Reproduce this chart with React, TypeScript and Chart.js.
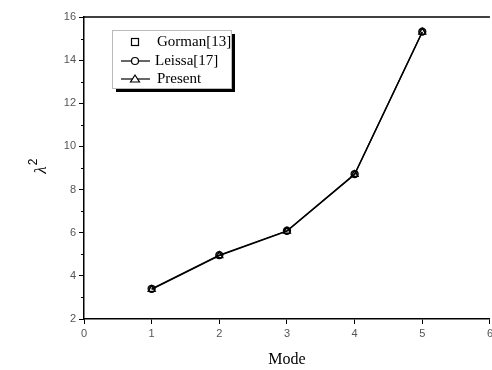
import React, { useEffect, useRef } from "react";
import { Chart, registerables } from "chart.js";
Chart.register(...registerables);

const modes = [1, 2, 3, 4, 5];
const gorman = [3.38, 4.95, 6.08, 8.71, 15.31];
const leissa = [3.40, 4.96, 6.09, 8.72, 15.32];
const present = [3.37, 4.94, 6.07, 8.70, 15.30];
const legendLabels = ["Gorman[13]", "Leissa[17]", "Present"];
const xTitle = "Mode";

const framePlugin = {
  id: "frame",
  afterDraw(chart: any) {
    const { ctx, chartArea, scales } = chart;
    const { left, right, top, bottom } = chartArea;
    const y = scales.y;
    const x = scales.x;
    ctx.save();
    ctx.strokeStyle = "#000";
    ctx.lineWidth = 1.5;
    ctx.beginPath();
    ctx.moveTo(left, top);
    ctx.lineTo(right, top);
    ctx.stroke();
    ctx.lineWidth = 1;
    ctx.beginPath();
    for (let v = 3; v < 16; v += 2) {
      const py = Math.round(y.getPixelForValue(v)) + 0.5;
      ctx.moveTo(left - 3, py);
      ctx.lineTo(left, py);
    }
    ctx.stroke();

    // axis titles
    ctx.fillStyle = "#000";
    ctx.textAlign = "center";
    ctx.textBaseline = "middle";
    ctx.font = "16px 'Liberation Serif'";
    ctx.fillText(xTitle, x.getPixelForValue(3), 360);

    ctx.save();
    ctx.translate(40, (top + bottom) / 2);
    ctx.rotate(-Math.PI / 2);
    ctx.font = "italic 17px 'Liberation Serif'";
    ctx.fillText("λ", -2, 2);
    ctx.font = "12px 'Liberation Sans'";
    ctx.fillText("2", 6, -6);
    ctx.restore();

    // legend
    const bx = 112, by = 30, bw = 119, bh = 58;
    ctx.fillStyle = "#000";
    ctx.fillRect(bx + 4, by + 4, bw, bh);
    ctx.fillStyle = "#fff";
    ctx.fillRect(bx, by, bw, bh);
    ctx.strokeStyle = "#bbb";
    ctx.lineWidth = 1;
    ctx.strokeRect(bx + 0.5, by + 0.5, bw, bh);

    const rows = [42, 61, 79];
    const sx = 135;
    ctx.strokeStyle = "#000";
    ctx.lineWidth = 1.2;
    // row 1 square
    ctx.strokeRect(sx - 3.5, rows[0] - 3.5, 7, 7);
    // row 2 line + circle
    ctx.beginPath();
    ctx.moveTo(121, rows[1]);
    ctx.lineTo(150, rows[1]);
    ctx.stroke();
    ctx.beginPath();
    ctx.arc(sx, rows[1], 3.5, 0, Math.PI * 2);
    ctx.fillStyle = "#fff";
    ctx.fill();
    ctx.stroke();
    // row 3 line + triangle
    ctx.beginPath();
    ctx.moveTo(121, rows[2]);
    ctx.lineTo(150, rows[2]);
    ctx.stroke();
    ctx.beginPath();
    ctx.moveTo(sx, rows[2] - 4);
    ctx.lineTo(sx + 4.5, rows[2] + 3);
    ctx.lineTo(sx - 4.5, rows[2] + 3);
    ctx.closePath();
    ctx.fill();
    ctx.stroke();

    ctx.fillStyle = "#000";
    ctx.textAlign = "left";
    ctx.textBaseline = "middle";
    ctx.font = "15px 'Liberation Serif'";
    ctx.fillText(legendLabels[0], 157, rows[0]);
    ctx.fillText(legendLabels[1], 155, rows[1]);
    ctx.fillText(legendLabels[2], 157, rows[2]);
    ctx.restore();
  },
};

export default function App() {
  const ref = useRef<HTMLCanvasElement>(null);
  useEffect(() => {
    if (!ref.current) return;
    const pts = (arr: number[]) => modes.map((m, i) => ({ x: m, y: arr[i] }));
    const chart = new Chart(ref.current, {
      type: "scatter",
      data: {
        datasets: [
          {
            label: legendLabels[0],
            data: pts(gorman),
            showLine: false,
            pointStyle: "rect",
            pointRadius: 3.5,
            borderColor: "#000",
            backgroundColor: "rgba(255,255,255,0)",
            borderWidth: 1,
          },
          {
            label: legendLabels[1],
            data: pts(leissa),
            showLine: true,
            pointStyle: "circle",
            pointRadius: 3.5,
            borderColor: "#000",
            backgroundColor: "rgba(255,255,255,0)",
            borderWidth: 1.3,
          },
          {
            label: legendLabels[2],
            data: pts(present),
            showLine: true,
            pointStyle: "triangle",
            pointRadius: 4,
            borderColor: "#000",
            backgroundColor: "rgba(255,255,255,0)",
            borderWidth: 1.3,
          },
        ],
      },
      options: {
        animation: false,
        responsive: false,
        events: [],
        layout: { padding: { left: 0, top: 17, right: 0, bottom: 0 } },
        plugins: { legend: { display: false }, tooltip: { enabled: false } },
        scales: {
          x: {
            type: "linear",
            min: 0,
            max: 6,
            afterFit: (s: any) => { s.height = 51; },
            ticks: {
              stepSize: 1,
              color: "#555",
              font: { family: "'Liberation Sans'", size: 11 },
              padding: 3,
            },
            grid: { drawOnChartArea: false, drawTicks: true, tickLength: 5, color: "#000", lineWidth: 1 },
            border: { display: true, color: "#000", width: 1.5 },
          },
          y: {
            type: "linear",
            min: 2,
            max: 16,
            afterFit: (s: any) => { s.width = 84; },
            ticks: {
              stepSize: 2,
              color: "#555",
              font: { family: "'Liberation Sans'", size: 11 },
              padding: 3,
            },
            grid: { drawOnChartArea: false, drawTicks: true, tickLength: 5, color: "#000", lineWidth: 1 },
            border: { display: true, color: "#000", width: 1.5 },
          },
        },
      },
      plugins: [framePlugin],
    });
    return () => chart.destroy();
  }, []);
  return (
    <div style={{ position: "fixed", left: 0, top: 0, width: 496, height: 370, background: "#fff" }}>
      <canvas ref={ref} width={496} height={370} style={{ width: 496, height: 370 }} />
    </div>
  );
}
